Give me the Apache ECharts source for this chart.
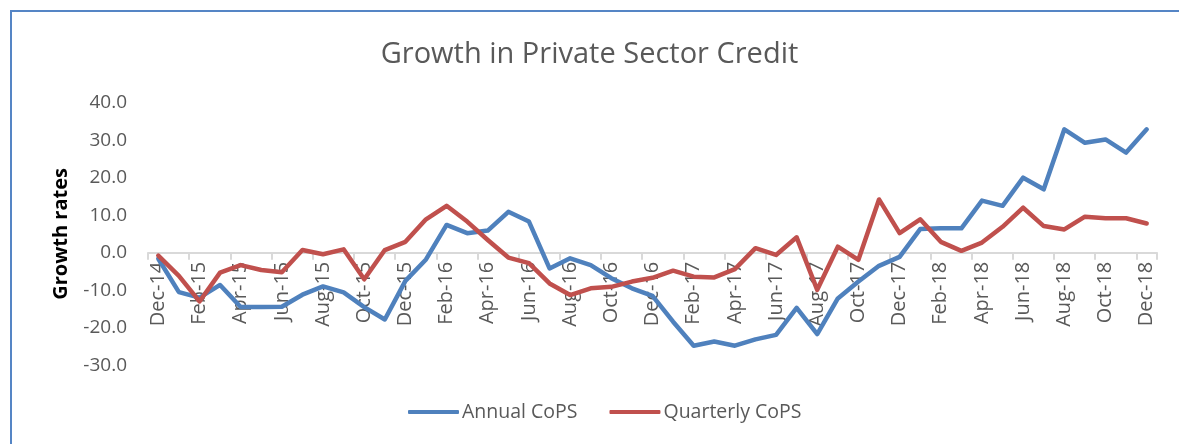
<!DOCTYPE html>
<html>
<head>
<meta charset="utf-8">
<script src="https://cdn.jsdelivr.net/npm/echarts@6/dist/echarts.min.js"></script>
<style>
  html, body { margin: 0; padding: 0; background: #ffffff; }
  #chart { width: 1179px; height: 444px; }
</style>
</head>
<body>
<div id="chart"></div>
<script>
// Monthly observations, Dec-2014 to Dec-2018
const months = [
  'Dec-14','Jan-15','Feb-15','Mar-15','Apr-15','May-15','Jun-15','Jul-15','Aug-15','Sep-15','Oct-15','Nov-15',
  'Dec-15','Jan-16','Feb-16','Mar-16','Apr-16','May-16','Jun-16','Jul-16','Aug-16','Sep-16','Oct-16','Nov-16',
  'Dec-16','Jan-17','Feb-17','Mar-17','Apr-17','May-17','Jun-17','Jul-17','Aug-17','Sep-17','Oct-17','Nov-17',
  'Dec-17','Jan-18','Feb-18','Mar-18','Apr-18','May-18','Jun-18','Jul-18','Aug-18','Sep-18','Oct-18','Nov-18',
  'Dec-18'
];

// Annual change of private sector credit (%)
const annualCoPS = [
  -1.6, -10.5, -12.0, -8.6, -14.5, -14.5, -14.4, -11.2, -9.0, -10.6, -14.5, -17.8,
  -7.5, -1.8, 7.4, 5.2, 5.9, 10.9, 8.3, -4.2, -1.5, -3.3, -6.8, -9.5,
  -11.5, -18.4, -24.8, -23.7, -24.8, -23.1, -21.9, -14.7, -21.7, -12.2, -7.7, -3.5,
  -1.1, 6.3, 6.5, 6.5, 13.9, 12.5, 20.0, 16.9, 32.9, 29.3, 30.2, 26.7,
  32.9
];

// Quarterly change of private sector credit (%)
const quarterlyCoPS = [
  -0.8, -6.2, -13.0, -5.3, -3.3, -4.6, -5.2, 0.7, -0.4, 0.9, -7.1, 0.7,
  2.9, 8.9, 12.5, 8.3, 3.4, -1.3, -2.8, -8.2, -11.3, -9.5, -9.1, -7.7,
  -6.7, -4.8, -6.4, -6.6, -4.4, 1.2, -0.6, 4.1, -9.9, 1.6, -1.9, 14.2,
  5.2, 8.9, 2.9, 0.5, 2.7, 6.9, 12.0, 7.1, 6.2, 9.6, 9.2, 9.2,
  7.8
];

const yMin = -30, yMax = 40, yStep = 10;

const FONT = '"Open Sans", "Noto Sans", sans-serif';
const GREY = '#595959';

// Plot area in pixels
const PLOT = { left: 148, right: 22, top: 102.7, bottom: 78.8 };
const chartHeight = 444;
const plotH = chartHeight - PLOT.top - PLOT.bottom;
// pixel offset from bottom of the chart to the zero line, so the category
// axis (line, ticks and labels) sits on y = 0
const zeroFromBottom = PLOT.bottom + plotH * (0 - yMin) / (yMax - yMin);

const chart = echarts.init(document.getElementById('chart'), null, { renderer: 'canvas' });

chart.setOption({
  backgroundColor: '#ffffff',
  animation: false,
  title: {
    text: 'Growth in Private Sector Credit',
    left: 'center',
    top: 35,
    textStyle: { fontFamily: FONT, fontSize: 29, fontWeight: 'normal', color: GREY }
  },
  legend: {
    bottom: 17,
    left: 403,
    icon: 'roundRect',
    itemWidth: 51,
    itemHeight: 4,
    itemGap: 32,
    textStyle: { fontFamily: FONT, fontSize: 19.5, color: GREY, padding: [0, 0, 0, -2] },
    data: ['Annual CoPS', 'Quarterly CoPS']
  },
  grid: [
    { left: PLOT.left, right: PLOT.right, top: PLOT.top, bottom: PLOT.bottom, containLabel: false },
    { left: PLOT.left, right: PLOT.right, top: PLOT.top, bottom: zeroFromBottom, containLabel: false }
  ],
  xAxis: [
    {
      type: 'category',
      gridIndex: 0,
      data: months,
      boundaryGap: true,
      show: false
    },
    {
      type: 'category',
      gridIndex: 1,
      data: months,
      boundaryGap: true,
      axisLine: { onZero: false, lineStyle: { color: '#d9d9d9', width: 2 } },
      axisTick: { show: true, interval: 1, length: 7, lineStyle: { color: '#d9d9d9', width: 2 } },
      axisLabel: {
        interval: 1,
        rotate: 90,
        margin: 9,
        fontFamily: FONT,
        fontSize: 20,
        color: GREY
      },
      splitLine: { show: false }
    }
  ],
  yAxis: [
    {
      type: 'value',
      gridIndex: 0,
      min: yMin,
      max: yMax,
      interval: yStep,
      name: 'Growth rates',
      nameLocation: 'middle',
      nameGap: 77,
      nameTextStyle: { fontFamily: FONT, fontSize: 20, fontWeight: 'bold', color: '#000000' },
      axisLine: { show: false },
      axisTick: { show: false },
      splitLine: { show: false },
      axisLabel: {
        margin: 21,
        fontFamily: FONT,
        fontSize: 19,
        color: GREY,
        formatter: v => v.toFixed(1)
      }
    },
    {
      type: 'value',
      gridIndex: 1,
      min: 0,
      max: 1,
      show: false
    }
  ],
  series: [
    {
      name: 'Annual CoPS',
      type: 'line',
      xAxisIndex: 0,
      yAxisIndex: 0,
      data: annualCoPS,
      symbol: 'none',
      z: 3,
      lineStyle: { color: '#4f81bd', width: 4.5, join: 'round', cap: 'round' },
      itemStyle: { color: '#4f81bd' }
    },
    {
      name: 'Quarterly CoPS',
      type: 'line',
      xAxisIndex: 0,
      yAxisIndex: 0,
      data: quarterlyCoPS,
      symbol: 'none',
      z: 3,
      lineStyle: { color: '#c0504d', width: 4.5, join: 'round', cap: 'round' },
      itemStyle: { color: '#c0504d' }
    }
  ],
  graphic: [
    {
      type: 'rect',
      silent: true,
      shape: { x: 11, y: 11, width: 1400, height: 800 },
      style: { fill: null, stroke: '#5585c5', lineWidth: 2 }
    }
  ]
});
</script>
</body>
</html>
